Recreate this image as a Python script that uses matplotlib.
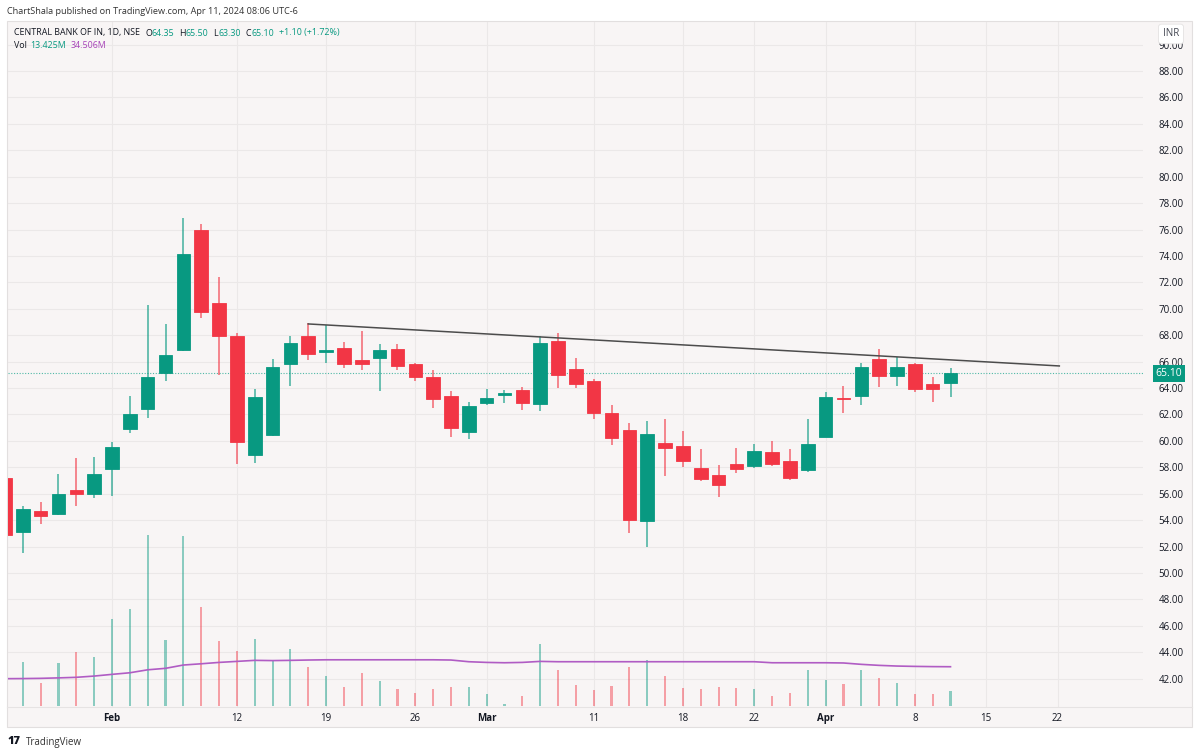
import matplotlib
matplotlib.use('Agg')
import matplotlib.pyplot as plt
from matplotlib.patches import Rectangle

W, H = 1200, 755

# daily bars, Jan 23 .. Apr 10 2024 (index = trading day)
opens = [57.2, 53.12, 54.7, 54.45, 56.25, 55.97, 57.85, 60.92, 62.4, 65.16,
         66.88, 76.0, 70.4, 67.94, 58.9, 60.42, 65.82, 67.94, 66.75, 67.05,
         66.12, 66.25, 66.95, 65.84, 64.86, 63.42, 60.7, 62.89, 63.5, 63.82,
         62.79, 67.53, 65.46, 64.53, 62.1, 60.85, 53.93, 59.86, 59.63, 57.97,
         57.44, 58.25, 58.12, 59.13, 58.5, 57.79, 60.31, 63.27, 63.42, 66.17,
         64.93, 65.79, 64.28, 64.35]
highs = [57.3, 55.07, 55.4, 57.5, 58.7, 58.8, 59.9, 63.4, 70.3, 68.85,
         76.87, 76.4, 72.4, 68.15, 63.9, 66.17, 67.96, 68.95, 68.8, 67.5,
         68.35, 67.3, 67.3, 65.9, 65.4, 63.8, 62.94, 63.92, 63.85, 64.1,
         67.94, 68.14, 66.3, 64.68, 62.7, 61.38, 61.48, 61.65, 60.74, 59.36,
         58.2, 59.43, 59.76, 60.0, 59.36, 61.63, 63.7, 64.15, 65.87, 66.98,
         66.35, 65.92, 64.86, 65.50]
lows = [52.8, 51.5, 53.7, 54.4, 55.1, 55.65, 55.8, 60.6, 61.7, 64.5,
        66.8, 69.3, 65.0, 58.25, 58.35, 60.4, 64.18, 66.1, 65.87, 65.5,
        65.4, 63.8, 65.4, 64.5, 62.5, 60.3, 60.16, 62.69, 62.9, 62.3,
        62.26, 64.0, 64.02, 61.68, 59.66, 53.05, 52.0, 57.34, 58.04, 56.93,
        55.77, 57.54, 57.92, 58.12, 57.06, 57.66, 60.3, 62.08, 62.71, 64.05,
        64.18, 63.72, 62.92, 63.30]
closes = [52.9, 54.82, 54.3, 56.0, 56.0, 57.47, 59.5, 62.03, 64.83, 66.5,
          74.12, 69.78, 67.94, 59.9, 63.3, 65.57, 67.43, 66.55, 66.85, 65.8,
          65.8, 66.88, 65.7, 64.86, 63.2, 60.95, 62.64, 63.27, 63.6, 62.89,
          67.38, 64.98, 64.28, 62.1, 60.21, 54.0, 60.54, 59.43, 58.45, 57.13,
          56.68, 57.84, 59.23, 58.25, 57.18, 59.73, 63.32, 63.14, 65.57, 64.93,
          65.57, 63.92, 63.95, 65.10]

# volume in millions + its moving average
volumes = [40, 38.3, 20.4, 37.7, 47.4, 43.2, 76.6, 84.8, 150.2, 58.1,
           149.7, 87.4, 56.7, 48.5, 58.8, 40.1, 49.7, 34.2, 26.0, 16.9,
           28.7, 22.2, 14.6, 11.4, 14.6, 16.4, 16.9, 10.5, 2.0, 9.0,
           54.6, 31.8, 18.2, 14.3, 17.3, 33.9, 40.1, 26.3, 16.0, 14.6,
           16.7, 15.8, 14.9, 9.0, 11.4, 31.3, 23.1, 19.0, 31.3, 24.8,
           20.4, 10.8, 10.8, 13.425]
vol_ma = [24.0, 24.1, 24.3, 24.7, 25.2, 26.3, 27.8, 29.2, 31.8, 33.1,
          36.0, 37.1, 38.3, 39.2, 40.1, 39.9, 40.1, 40.4, 40.6, 40.6,
          40.6, 40.6, 40.6, 40.6, 40.6, 40.4, 38.9, 38.3, 38.0, 38.3,
          39.2, 38.9, 38.9, 38.9, 38.9, 38.9, 38.9, 38.9, 38.9, 38.9,
          38.9, 38.9, 38.9, 38.0, 38.0, 38.0, 38.0, 37.8, 36.6, 35.7,
          35.1, 34.8, 34.6, 34.506]

tick_pos = [6, 13, 18, 23, 27, 33, 38, 42, 46, 51, 55, 59]
tick_labels = ['Feb', '12', '19', '26', 'Mar', '11', '18', '22', 'Apr', '8', '15', '22']
month_labels = ['Feb', 'Mar', 'Apr']
price_ticks = [42, 44, 46, 48, 50, 52, 54, 56, 58, 60, 62, 64, 66, 68, 70,
               72, 74, 76, 78, 80, 82, 84, 86, 88, 90]

# drawn resistance line
trend_x = [17, 59.1]
trend_y = [68.85, 65.67]

UP = '#089981'
DOWN = '#f23645'
BG = '#f8f5f5'
GRID = '#ebe8e8'
TXT = '#131722'
PURPLE = '#b05cc4'

plt.rcParams['font.family'] = ['Open Sans', 'DejaVu Sans']


def fx(px):
    return px / W


def fy(py):
    return 1 - py / H


def text_row(fig, x, y, pieces, size):
    """draw pieces one after another, x/y in pixels"""
    r = fig.canvas.get_renderer()
    for s, c, gap in pieces:
        t = fig.text(fx(x), fy(y), s, fontsize=size, color=c, va='center')
        x += t.get_window_extent(renderer=r).width + gap


fig = plt.figure(figsize=(W / 100, H / 100), dpi=100)
fig.patch.set_facecolor('white')

# chart frame
fig.add_artist(Rectangle((fx(7), fy(727)), fx(1192) - fx(7), fy(21) - fy(727),
                         transform=fig.transFigure, facecolor=BG,
                         edgecolor='#e2dfdf', linewidth=0.8, zorder=0))

rect = [fx(8), fy(707), fx(1143) - fx(8), fy(22) - fy(707)]
ax = fig.add_axes(rect)
ax.patch.set_alpha(0)
for s in ax.spines.values():
    s.set_visible(False)
ax.set_xlim(0.17, 63.79)
ax.set_ylim(39.85, 91.71)
ax.set_xticks(tick_pos)
ax.set_xticklabels(tick_labels)
ax.set_yticks(price_ticks)
ax.set_yticklabels(['%.2f' % p for p in price_ticks])
ax.yaxis.tick_right()
ax.tick_params(axis='both', length=0, labelsize=7, colors=TXT)
ax.tick_params(axis='y', pad=11)
ax.tick_params(axis='x', pad=4)
for lbl in ax.get_xticklabels():
    if lbl.get_text() in month_labels:
        lbl.set_fontweight('bold')
ax.grid(True, color=GRID, linewidth=0.8)
ax.set_axisbelow(True)

# candles
xs = list(range(len(closes)))
cols = [UP if c >= o else DOWN for o, c in zip(opens, closes)]
ax.vlines(xs, lows, highs, colors=cols, linewidth=1.1, alpha=0.75, zorder=3)
bodies = [c - o if abs(c - o) > 0.08 else 0.08 for o, c in zip(opens, closes)]
ax.bar(xs, bodies, bottom=opens, width=0.76, color=cols, edgecolor=cols,
       linewidth=0.6, zorder=4)

ax.plot(trend_x, trend_y, color='#4c4c4c', linewidth=1.1, zorder=5)
ax.axhline(closes[-1], color='#4fb8a6', linestyle=(0, (1, 1.5)), linewidth=0.8, zorder=2)
ax.text(1.0 + (1169 - 1143) / 1135, closes[-1], '%.2f' % closes[-1],
        transform=ax.get_yaxis_transform(), ha='center', va='center',
        color='white', fontsize=7.5, clip_on=False, zorder=6,
        bbox=dict(boxstyle='square,pad=0.25', fc=UP, ec='none'))

# volume overlay
ax2 = fig.add_axes(rect)
ax2.patch.set_alpha(0)
ax2.axis('off')
ax2.set_xlim(0.17, 63.79)
ax2.set_ylim(-0.88, 601)
ax2.bar(xs, volumes, width=0.12, color=cols, alpha=0.45, zorder=2)
ax2.plot(xs, vol_ma, color=PURPLE, linewidth=1.2, zorder=3)

# pane / time axis separator
fig.add_artist(plt.Line2D([fx(7), fx(1192)], [fy(707), fy(707)],
                          transform=fig.transFigure, color='#e6e3e3', linewidth=0.8))

# INR box
fig.text(fx(1171), fy(34), 'INR', ha='center', va='center', fontsize=7, color='#434651',
         bbox=dict(boxstyle='round,pad=0.45,rounding_size=0.3', fc='white', ec='#e4e2e2', lw=0.6))

# header
fig.text(fx(7), fy(12), 'ChartShala published on TradingView.com, Apr 11, 2024 08:06 UTC-6',
         fontsize=6.6, color='#333333', va='center')
text_row(fig, 14, 33, [('CENTRAL BANK OF IN, 1D, NSE', TXT, 5),
                       ('O', TXT, 0), ('%.2f' % opens[-1], UP, 5),
                       ('H', TXT, 0), ('%.2f' % highs[-1], UP, 5),
                       ('L', TXT, 0), ('%.2f' % lows[-1], UP, 5),
                       ('C', TXT, 0), ('%.2f' % closes[-1], UP, 5),
                       ('+1.10 (+1.72%)', UP, 0)], 6.4)
text_row(fig, 14, 46, [('Vol', TXT, 3), ('13.425M', UP, 5),
                       ('34.506M', '#a742b8', 0)], 6.4)

# footer logo
fig.text(fx(8), fy(742), '17', fontsize=8, fontweight='heavy', color='#131722', va='center')
fig.text(fx(26), fy(742), 'TradingView', fontsize=7, color='#333333', va='center')

fig.savefig('out.png', dpi=100, facecolor='white')
